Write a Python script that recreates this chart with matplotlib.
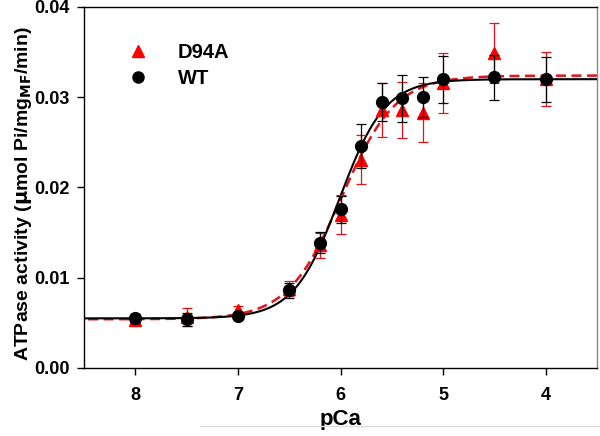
import numpy as np
import matplotlib
matplotlib.use("Agg")
import matplotlib.pyplot as plt
from matplotlib.lines import Line2D

plt.rcParams['font.family'] = ['Liberation Sans', 'DejaVu Sans']
plt.rcParams['font.weight'] = 'bold'

# data
pca = [8.0, 7.5, 7.0, 6.5, 6.2, 6.0, 5.8, 5.6, 5.4, 5.2, 5.0, 4.5, 4.0]
wt = [0.0055, 0.0054, 0.0058, 0.0086, 0.0139, 0.0176, 0.0246, 0.0295, 0.0299, 0.0300, 0.0320, 0.0322, 0.0320]
wt_err = [0.0005, 0.0007, 0.0004, 0.0008, 0.0012, 0.0015, 0.0024, 0.0021, 0.0026, 0.0022, 0.0026, 0.0025, 0.0025]
d94a = [0.0053, 0.0056, 0.0064, 0.0088, 0.0136, 0.0170, 0.0231, 0.0286, 0.0286, 0.0283, 0.0316, 0.0349, 0.0320]
d94a_err = [0.0005, 0.0010, 0.0005, 0.0008, 0.0014, 0.0022, 0.0027, 0.0030, 0.0031, 0.0033, 0.0033, 0.0033, 0.0030]

# Hill fit parameters (min, max, pCa50, n)
wt_fit = (0.0055, 0.0320, 6.01, 1.95)
d94a_fit = (0.0054, 0.0324, 5.99, 1.65)

def hill(x, p):
    lo, hi, p50, n = p
    return lo + (hi - lo) / (1 + 10 ** (n * (x - p50)))

fig = plt.figure(figsize=(6, 4.36), dpi=100)
ax = fig.add_axes([0.14, 0.156, 0.855, 0.828])

xs = np.linspace(3.5, 8.5, 400)
ax.plot(xs, hill(xs, d94a_fit), color='#e3121b', lw=1.8, ls=(0, (4, 2.2)), zorder=2)
ax.plot(xs, hill(xs, wt_fit), color='black', lw=1.5, zorder=3)

ax.errorbar(pca, d94a, yerr=d94a_err, fmt='^', color='#ff0000', ecolor='#e3121b',
            ms=8.5, elinewidth=0.9, capsize=3.6, capthick=0.9, zorder=4)
ax.errorbar(pca, wt, yerr=wt_err, fmt='o', color='black', ecolor='black',
            ms=8.5, elinewidth=0.9, capsize=3.6, capthick=0.9, zorder=5)

ax.set_xlim(8.5, 3.5)
ax.set_ylim(0, 0.04)
ax.set_xticks([8, 7, 6, 5, 4])
ax.set_yticks([0, 0.01, 0.02, 0.03, 0.04])
ax.set_yticklabels(['0.00', '0.01', '0.02', '0.03', '0.04'])
ax.tick_params(direction='out', length=5, width=1, labelsize=13, pad=5)
ax.tick_params(axis='x', pad=9)
for s in ax.spines.values():
    s.set_linewidth(1)
ax.spines['right'].set_color('#888888')

ax.set_xlabel('pCa', fontsize=16, fontweight='bold', labelpad=3)
ax.set_ylabel(r'ATPase activity ($\mathbf{\mu}$mol Pi/mg$_{\mathbf{MF}}$/min)', fontsize=14,
              fontweight='bold')
ax.yaxis.set_label_coords(-0.097, 0.484)

handles = [Line2D([], [], marker='^', color='#ff0000', ls='', ms=8),
           Line2D([], [], marker='o', color='black', ls='', ms=8)]
ax.legend(handles, ['D94A', 'WT'], loc='upper left', bbox_to_anchor=(0.03, 0.95),
          frameon=False, fontsize=14.5, handletextpad=1.0, labelspacing=0.35)

fig.add_artist(Line2D([0.333, 1.0], [0.023, 0.023], color='#dddddd', lw=1))

fig.savefig('out.png', dpi=100)
